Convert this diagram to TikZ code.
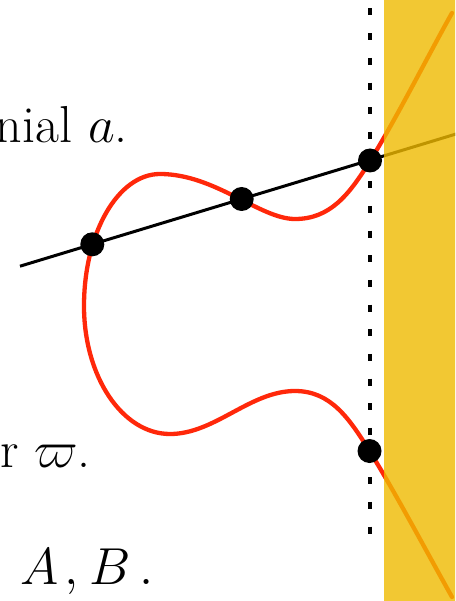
\RequirePackage{fix-cm}
\documentclass[tikz,border=0pt]{standalone}
\definecolor{curvered}{RGB}{255,40,10}
\definecolor{panel}{RGB}{239,186,0}
\tikzset{
  curvestyle/.style={draw=curvered, line width=4.3pt, line cap=round, line join=round},
  chord/.style={draw=black, line width=3pt},
  ptdot/.style={circle, fill=black, inner sep=0pt, minimum size=24pt},
  tick/.style={draw=black, line width=4pt},
  lbl/.style={inner sep=0pt, font=\fontsize{52}{62}\selectfont},
}
\begin{document}
\begin{tikzpicture}[x=1pt,y=-1pt]
\useasboundingbox (0,0) rectangle (455,601);
\begin{scope}
\clip (0,0) rectangle (455,601);
% dotted vertical line
\foreach \k in {0,...,21}{
  \draw[tick] (369.5,{12+24.67*\k-3.5}) -- (369.5,{12+24.67*\k+3.5});
}
% key coordinates of the curve
\coordinate (cTop) at (452,13);
\coordinate (cR) at (370,161);
\coordinate (cM) at (295,219);
\coordinate (cT) at (160,174);
\coordinate (cL) at (84,306);
\coordinate (cB) at (170,434);
\coordinate (cN) at (295,391);
\coordinate (cS) at (369.5,451);
\coordinate (cBot) at (452,597);
\coordinate (lineL) at (20,266.2);
\coordinate (lineR) at (460,132.8);
% curve
\draw[curvestyle] (cTop)
  .. controls (430,52) and (395,121) .. (cR)
  .. controls (349,195) and (330,219) .. (cM)
  .. controls (260,219) and (215,174) .. (cT)
  .. controls (118,174) and (84,233) .. (cL)
  .. controls (84,377) and (122.5,434) .. (cB)
  .. controls (215,434) and (250,391) .. (cN)
  .. controls (330,391) and (348.5,417) .. (cS)
  .. controls (394.5,491) and (430,558) .. (cBot);
% chord
\draw[chord] (lineL) -- (lineR);
% points
\node[ptdot] (P) at (92.3,244.3) {};
\node[ptdot] (Q) at (241.7,199) {};
\node[ptdot] (R) at (370,160.5) {};
\node[ptdot] (S) at (369.5,451) {};
% panel
\fill[panel, fill opacity=0.8] (384,-5) rectangle (460,606);
% labels
\node[lbl, anchor=base east] (t1) at (128,142.5) {nial $a$.};
\node[lbl, anchor=base east] (t2) at (91,467) {er $\varpi$.};
\node[lbl, anchor=base west] (t3) at (20,584) {$A\mkern2mu,\mkern1mu B\mkern3mu.$};
\end{scope}
\end{tikzpicture}
\end{document}
